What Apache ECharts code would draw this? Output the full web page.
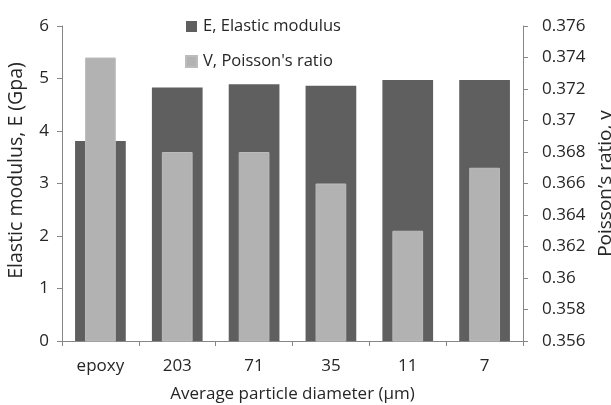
<!DOCTYPE html>
<html>
<head>
<meta charset="utf-8">
<script src="https://cdn.jsdelivr.net/npm/echarts@6/dist/echarts.min.js"></script>
<style>html,body{margin:0;padding:0;background:#fff}#c{width:611px;height:405px}</style>
</head>
<body>
<div id="c"></div>
<script>
const categories = ['epoxy', '203', '71', '35', '11', '7'];
const elasticModulus = [3.81, 4.83, 4.89, 4.86, 4.97, 4.97];
const poissonRatio = [0.374, 0.368, 0.368, 0.366, 0.363, 0.367];
const leftTicks = {min: 0, max: 6, interval: 1};
const rightTicks = {min: 0.356, max: 0.376, interval: 0.002};

const FONT = 'Open Sans';
const TXT = '#262626';
const AX = '#868686';
const chart = echarts.init(document.getElementById('c'), null, {renderer: 'canvas'});
chart.setOption({
  animation: false,
  backgroundColor: '#fff',
  textStyle: {fontFamily: FONT},
  grid: {left: 62, right: 88, top: 26, bottom: 64, outerBoundsMode: 'none', containLabel: false},
  legend: {
    orient: 'vertical', left: 180, top: 13, itemWidth: 11, itemHeight: 11, itemGap: 18,
    icon: 'rect',
    textStyle: {fontFamily: FONT, fontSize: 16.5, color: TXT, padding: [0, 0, 0, 1]},
    data: ['E, Elastic modulus', "V, Poisson's ratio"]
  },
  xAxis: [{
    type: 'category', data: categories, position: 'bottom',
    axisLine: {show: true, lineStyle: {color: AX}},
    axisTick: {show: true, length: 5, lineStyle: {color: AX}},
    axisLabel: {fontFamily: FONT, fontSize: 17, color: TXT, margin: 17},
    name: 'Average particle diameter (μm)', nameLocation: 'middle', nameGap: 45,
    nameTextStyle: {fontFamily: FONT, fontSize: 17, color: TXT}
  }, {
    type: 'category', data: categories, show: false
  }],
  yAxis: [{
    type: 'value', min: leftTicks.min, max: leftTicks.max, interval: leftTicks.interval,
    axisLine: {show: true, lineStyle: {color: AX}},
    axisTick: {show: true, length: 5, lineStyle: {color: AX}},
    splitLine: {show: false},
    axisLabel: {fontFamily: FONT, fontSize: 17, color: TXT, margin: 13},
    name: 'Elastic modulus, E (Gpa)', nameLocation: 'middle', nameGap: 36,
    nameTextStyle: {fontFamily: FONT, fontSize: 19.5, color: TXT, padding: [0, 0, 0, 26]}
  }, {
    type: 'value', position: 'right', min: rightTicks.min, max: rightTicks.max, interval: rightTicks.interval,
    axisLine: {show: true, lineStyle: {color: AX}},
    axisTick: {show: true, length: 5, lineStyle: {color: AX}},
    splitLine: {show: false},
    axisLabel: {fontFamily: FONT, fontSize: 17, color: TXT, margin: 19,
      formatter: v => String(+(+v).toFixed(3))},
    name: 'Poisson’s ratio, v', nameLocation: 'middle', nameGap: 62,
    nameTextStyle: {fontFamily: FONT, fontSize: 19, color: TXT}
  }],
  series: [{
    name: 'E, Elastic modulus', type: 'bar', xAxisIndex: 0, yAxisIndex: 0,
    data: elasticModulus, barWidth: '66%',
    itemStyle: {color: '#5f5f5f'}
  }, {
    name: "V, Poisson's ratio", type: 'bar', xAxisIndex: 1, yAxisIndex: 1,
    data: poissonRatio, barWidth: '40%',
    itemStyle: {color: '#b2b2b2', borderColor: '#bcbcbc', borderWidth: 1}
  }]
});
</script>
</body>
</html>
